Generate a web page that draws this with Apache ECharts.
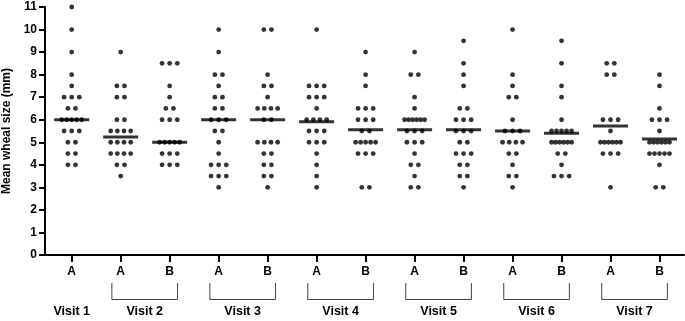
<!DOCTYPE html>
<html><head><meta charset="utf-8">
<script src="https://cdn.jsdelivr.net/npm/echarts@6/dist/echarts.min.js"></script>
<style>html,body{margin:0;padding:0;background:#fff}#c{width:685px;height:321px}</style>
</head><body><div id="c"></div>
<script>
// ---- data ----
const categories = ['A','A','B','A','B','A','B','A','B','A','B','A','B'];
const visitNames = ['Visit 1','Visit 2','Visit 3','Visit 4','Visit 5','Visit 6','Visit 7'];
const visitGroups = [[0],[1,2],[3,4],[5,6],[7,8],[9,10],[11,12]];
const yTicks = [0,1,2,3,4,5,6,7,8,9,10,11];

const v1A = [11,10,9,8,7.5,7,7,7,6.5,6.5,6,6,6,6,6,5.5,5.5,5.5,5,5,4.5,4.5,4,4];
const v2A = [9,7.5,7.5,7,7,6,6,5.5,5.5,5.5,5.5,5,5,5,5,4.5,4.5,4.5,4.5,4,4,3.5];
const v2B = [8.5,8.5,8.5,7.5,7,6.5,6.5,6,6,6,5,5,5,5,5,4.5,4.5,4.5,4,4,4];
const v3A = [10,9,8,8,7.5,7,7,6.5,6.5,6,6,6,5.5,5.5,5,4.5,4,4,4,3.5,3.5,3.5,3];
const v3B = [10,10,8,7.5,7.5,7,6.5,6.5,6.5,6.5,6,6,5,5,5,5,4.5,4.5,4,4,3.5,3.5,3];
const v4A = [10,7.5,7.5,7.5,7,7,7,6.5,6,6,6,6,5.5,5.5,5.5,5,5,5,4.5,4,3.5,3];
const v4B = [9,8,7.5,6.5,6.5,6.5,6,6,6,5.5,5.5,5,5,5,5,5,4.5,4.5,4.5,3,3];
const v5A = [9,8,8,7,6.5,6,6,6,6,6,6,5.5,5.5,5.5,5,5,5,4.5,4,4,3.5,3,3];
const v5B = [9.5,8.5,8,7.5,6.5,6.5,6,6,6,5.5,5.5,5.5,5,5,4.5,4.5,4.5,4,4,3.5,3.5,3];
const v6A = [10,8,7.5,7,7,6,5.5,5.5,5.5,5,5,5,5,4.5,4.5,4,3.5,3.5,3];
const v6B = [9.5,8.5,7.5,7,6,5.5,5.5,5.5,5.5,5.5,5,5,5,5,5,5,4.5,4.5,4,3.5,3.5,3.5];
const v7A = [8.5,8.5,8,8,6,6,6,5.5,5,5,5,5,5,5,4.5,4.5,4.5,3];
const v7B = [8,7.5,6.5,6,6,6,5.5,5,5,5,5,5,5,4.5,4.5,4.5,4.5,4.5,4,3,3];
const groupValues = [v1A,v2A,v2B,v3A,v3B,v4A,v4B,v5A,v5B,v6A,v6B,v7A,v7B];
const centreLines = [6.0,5.23,5.0,6.0,6.0,5.91,5.55,5.56,5.56,5.5,5.4,5.72,5.15];

// ---- layout helpers ----
const FONT = '"Liberation Sans", Arial, sans-serif';
const UNIT_PX = 48.98;
function swarm(values, gi) {
  const counts = {};
  values.forEach(v => { counts[v] = (counts[v] || 0) + 1; });
  const pts = [];
  Object.keys(counts).forEach(key => {
    const k = counts[key];
    const v = parseFloat(key);
    const s = k > 1 ? Math.min(7.6, 20 / (k - 1)) / UNIT_PX : 0;
    for (let j = 0; j < k; j++) pts.push([gi + (j - (k - 1) / 2) * s, v]);
  });
  return pts;
}
const dotData = [];
groupValues.forEach((vals, gi) => swarm(vals, gi).forEach(p => dotData.push(p)));
const lineData = centreLines.map((v, i) => [i, v]);
const catIdx = categories.map((c, i) => i);

const chart = echarts.init(document.getElementById('c'), null, {renderer: 'canvas'});
chart.setOption({
  animation: false,
  backgroundColor: '#fff',
  grid: {left: 45, right: 1, top: 7, bottom: 66, containLabel: false, outerBoundsMode: 'none'},
  xAxis: {
    type: 'value', min: -0.545, max: 12.5,
    axisLine: {show: true, onZero: false, lineStyle: {color: '#000', width: 2}},
    axisTick: {show: true, customValues: catIdx, length: 7, lineStyle: {color: '#000', width: 2}},
    axisLabel: {show: true, customValues: catIdx, formatter: v => categories[Math.round(v)],
      color: '#000', fontWeight: 'bold', fontSize: 12, fontFamily: FONT, margin: 11},
    splitLine: {show: false}
  },
  yAxis: {
    type: 'value', min: 0, max: 11, interval: 1,
    axisLine: {show: true, onZero: false, lineStyle: {color: '#000', width: 2}},
    axisTick: {show: true, length: 6, lineStyle: {color: '#000', width: 2}},
    axisLabel: {color: '#000', fontWeight: 'bold', fontSize: 12, fontFamily: FONT, margin: 8,
      formatter: v => String(yTicks[yTicks.indexOf(v)])},
    splitLine: {show: false},
    name: 'Mean wheal size (mm)', nameLocation: 'middle', nameGap: 30,
    nameTextStyle: {color: '#000', fontWeight: 'bold', fontSize: 12, fontFamily: FONT}
  },
  series: [
    {type: 'scatter', data: dotData, symbol: 'circle', symbolSize: 4.8,
     itemStyle: {color: '#000'}, z: 2, silent: true},
    {type: 'scatter', data: lineData, symbol: 'rect', symbolSize: [35, 3],
     itemStyle: {color: '#000'}, z: 3, silent: true}
  ]
});

// brackets and visit labels below axis
const graphics = [];
visitGroups.forEach((g, vi) => {
  const xA = chart.convertToPixel({xAxisIndex: 0}, g[0]);
  const xB = chart.convertToPixel({xAxisIndex: 0}, g[g.length - 1]);
  let cx = (xA + xB) / 2;
  if (g.length > 1) {
    const xl = chart.convertToPixel({xAxisIndex: 0}, g[0] - 0.18);
    const xr = chart.convertToPixel({xAxisIndex: 0}, g[1] + 0.16);
    cx = (xl + xr) / 2;
    graphics.push({type: 'polyline', silent: true,
      shape: {points: [[xl, 283], [xl, 299.5], [xr, 299.5], [xr, 283]]},
      style: {stroke: '#444', lineWidth: 1, fill: null}});
  }
  graphics.push({type: 'text', silent: true,
    style: {text: visitNames[vi], x: cx, y: 312, align: 'center', verticalAlign: 'middle',
      fontSize: 12.5, fontWeight: 'bold', fontFamily: FONT, fill: '#000'}});
});
chart.setOption({graphic: graphics});
</script>
</body></html>
